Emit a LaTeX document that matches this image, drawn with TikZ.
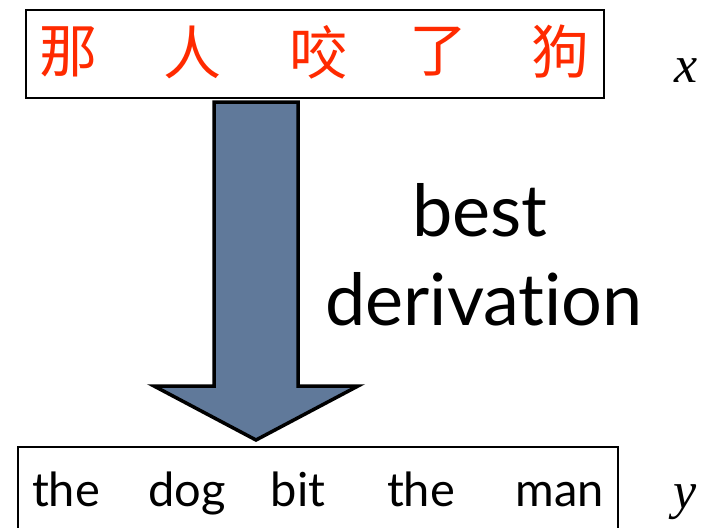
\documentclass[tikz,border=0pt]{standalone}
\usepackage{fontspec}
\setmainfont{Lato}[Ligatures=NoCommon]
\newfontfamily\cjk{Noto Sans CJK SC}
\newfontfamily\varfont{Liberation Serif}
\definecolor{zhred}{HTML}{FF2A00}
\definecolor{arrowfill}{HTML}{60799A}
\tikzset{
  frame/.style={draw=black, line width=1.8pt, inner sep=0pt, fill=none},
  zh/.style={font=\cjk\fontsize{58}{60}\selectfont, text=zhred, inner sep=0pt, anchor=center},
  en/.style={font=\fontsize{47}{50}\selectfont, inner sep=0pt, anchor=base},
  big/.style={font=\fontsize{72}{76}\selectfont, inner sep=0pt, anchor=base},
  var/.style={font=\varfont\itshape\fontsize{52}{54}\selectfont, inner sep=0pt, anchor=base},
}
\begin{document}
\begin{tikzpicture}[x=1pt,y=-1pt]
\useasboundingbox (0,0) rectangle (705,528);
% top box
\node[frame, minimum width=578pt, minimum height=88pt] (top) at (315,54) {};
\node[zh] (c1) at (68,52) {那};
\node[zh] (c2) at (192,52) {人};
\node[zh] (c3) at (318,52) {咬};
\node[zh] (c4) at (438,52) {了};
\node[zh] (c5) at (560,52) {狗};
\node[var] (x) at (686,82) {x};
% arrow
\draw[line width=3.5pt, fill=arrowfill, line join=miter]
  (214,102) -- (298,102) -- (298,386) -- (358,386) -- (256,440) -- (154,386) -- (214,386) -- cycle;
% label
\node[big] (best) at (480,236) {best};
\node[big] (deriv) at (484,325) {derivation};
% bottom box
\node[frame, minimum width=600pt, minimum height=100pt] (bot) at (318,497) {};
\node[en] (w1) at (66,506) {the};
\node[en] (w2) at (187,506) {dog};
\node[en] (w3) at (298,506) {bit};
\node[en] (w4) at (421,506) {the};
\node[en] (w5) at (560,506) {man};
\node[var] (y) at (685,508) {y};
\end{tikzpicture}
\end{document}
